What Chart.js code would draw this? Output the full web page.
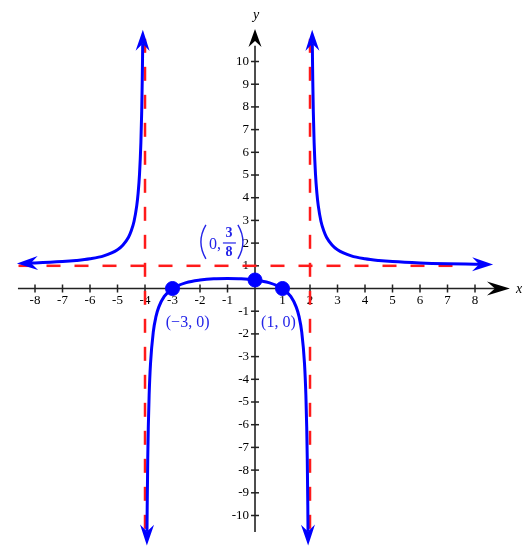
<!DOCTYPE html>
<html>
<head>
<meta charset="utf-8">
<script src="https://cdn.jsdelivr.net/npm/chart.js@4"></script>
<style>
  html, body { margin: 0; padding: 0; background: #fff; }
  canvas { display: block; }
</style>
</head>
<body>
<canvas id="myChart" width="528" height="550"></canvas>
<script>
// tick labels
const xTicks = [-8, -7, -6, -5, -4, -3, -2, -1, 1, 2, 3, 4, 5, 6, 7, 8];
const yTicks = [10, 9, 8, 7, 6, 5, 4, 3, 2, 1, -1, -2, -3, -4, -5, -6, -7, -8, -9, -10];

// curve branches
const leftX = [-8.15, -8, -7, -6.5, -6, -5.5, -5, -4.8, -4.6, -4.5, -4.4, -4.3, -4.25, -4.2, -4.15, -4.12, -4.1, -4.09, -4.084];
const leftY = [1.12, 1.125, 1.185, 1.235, 1.31, 1.44, 1.71, 1.92, 2.26, 2.54, 2.95, 3.65, 4.2, 5.03, 6.42, 7.81, 9.2, 10.12, 10.78];

const midX = [-3.928, -3.92, -3.9, -3.88, -3.85, -3.8, -3.7, -3.6, -3.5, -3.3, -3, -2.5, -2, -1.5, -1, -0.5, 0, 0.5, 1, 1.3, 1.5, 1.6, 1.7, 1.8, 1.85, 1.88, 1.9, 1.92, 1.928];
const midY = [-10.71, -9.56, -7.48, -6.09, -4.7, -3.31, -1.92, -1.23, -0.82, -0.35, 0, 0.26, 0.375, 0.43, 0.44, 0.43, 0.375, 0.26, 0, -0.35, -0.82, -1.23, -1.92, -3.31, -4.7, -6.09, -7.48, -9.56, -10.71];

const rightX = [2.084, 2.09, 2.1, 2.12, 2.15, 2.2, 2.25, 2.3, 2.4, 2.5, 2.6, 2.8, 3, 3.5, 4, 4.5, 5, 6, 7, 8, 8.15];
const rightY = [10.78, 10.12, 9.2, 7.81, 6.42, 5.03, 4.2, 3.65, 2.95, 2.54, 2.26, 1.92, 1.71, 1.44, 1.31, 1.235, 1.185, 1.125, 1.09, 1.07, 1.067];

// asymptotes x = -4, x = 2, y = 1
const vAsymX = [-4, 2];
const vAsymY = [11.0, -10.75];
const hAsymX = [-8.6, 7.55];
const hAsymY = 1;

// marked points
const ptsX = [-3, 0, 1];
const ptsY = [0, 0.375, 0];

const BLUE = "#0000ff";
const RED = "#ff1a1a";
const TXT_BLUE = "#2424e8";

const toXY = (xs, ys) => xs.map((v, i) => ({ x: v, y: ys[i] }));

function arrowHead(ctx, tx, ty, ang, color, len, half, notch) {
  const ca = Math.cos(ang), sa = Math.sin(ang);
  const bx = tx - ca * len, by = ty - sa * len;
  const nx = tx - ca * notch, ny = ty - sa * notch;
  ctx.fillStyle = color;
  ctx.beginPath();
  ctx.moveTo(tx, ty);
  ctx.lineTo(bx - sa * half, by + ca * half);
  ctx.lineTo(nx, ny);
  ctx.lineTo(bx + sa * half, by - ca * half);
  ctx.closePath();
  ctx.fill();
}

const axesPlugin = {
  id: "axes",
  beforeDatasetsDraw(chart) {
    const { ctx, scales: { x, y } } = chart;
    const x0 = x.getPixelForValue(0);
    const y0 = y.getPixelForValue(0);
    ctx.save();
    ctx.strokeStyle = "#222";
    ctx.lineWidth = 1.6;
    // x axis
    ctx.beginPath();
    ctx.moveTo(x.getPixelForValue(-8.62), y0);
    ctx.lineTo(x.getPixelForValue(9.0), y0);
    ctx.stroke();
    arrowHead(ctx, x.getPixelForValue(9.27), y0, 0, "#000", 23, 7, 15);
    // y axis
    ctx.beginPath();
    ctx.moveTo(x0, y.getPixelForValue(-10.73));
    ctx.lineTo(x0, y.getPixelForValue(10.7));
    ctx.stroke();
    arrowHead(ctx, x0, y.getPixelForValue(11.43), -Math.PI / 2, "#000", 18, 6.5, 12);

    ctx.lineWidth = 1.5;
    ctx.fillStyle = "#000";
    ctx.font = '13px "Liberation Serif"';
    ctx.textAlign = "center";
    ctx.textBaseline = "top";
    xTicks.forEach(v => {
      const px = x.getPixelForValue(v);
      ctx.beginPath();
      ctx.moveTo(px, y0 - 4);
      ctx.lineTo(px, y0 + 4);
      ctx.stroke();
      ctx.fillText(String(v), px, y0 + 6);
    });
    ctx.textAlign = "right";
    ctx.textBaseline = "middle";
    yTicks.forEach(v => {
      const py = y.getPixelForValue(v);
      ctx.beginPath();
      ctx.moveTo(x0 - 4, py);
      ctx.lineTo(x0 + 4, py);
      ctx.stroke();
      ctx.fillText(String(v), x0 - 6, py);
    });
    ctx.font = 'italic 14px "Liberation Serif"';
    ctx.textAlign = "center";
    ctx.fillText("x", x.getPixelForValue(9.6), y0 + 1);
    ctx.fillText("y", x0 + 1, y.getPixelForValue(12.05));
    ctx.restore();
  },
  afterDatasetsDraw(chart) {
    const { ctx, scales: { x, y } } = chart;
    ctx.save();
    // arrowheads on the curve ends
    [0, 1, 2].forEach(i => {
      const pts = chart.getDatasetMeta(i).data;
      const ends = [[pts[0], pts[1]], [pts[pts.length - 1], pts[pts.length - 2]]];
      ends.forEach(([a, b]) => {
        const ang = Math.atan2(a.y - b.y, a.x - b.x);
        const tx = a.x + Math.cos(ang) * 14, ty = a.y + Math.sin(ang) * 14;
        arrowHead(ctx, tx, ty, ang, BLUE, 21, 7, 14);
      });
    });

    // point labels
    ctx.fillStyle = TXT_BLUE;
    ctx.font = '16px "Liberation Serif"';
    ctx.textAlign = "center";
    ctx.textBaseline = "middle";
    ctx.fillText("(\u22123, 0)", x.getPixelForValue(-2.45), y.getPixelForValue(-1.5));
    ctx.fillText("(1, 0)", x.getPixelForValue(0.85), y.getPixelForValue(-1.5));

    // (0, 3/8)
    const cx = x.getPixelForValue(-1.24);
    const cy = y.getPixelForValue(2.05);
    ctx.strokeStyle = TXT_BLUE;
    ctx.lineWidth = 1.4;
    ctx.beginPath();
    ctx.moveTo(cx - 15, cy - 17);
    ctx.quadraticCurveTo(cx - 25, cy, cx - 15, cy + 17);
    ctx.stroke();
    ctx.beginPath();
    ctx.moveTo(cx + 17, cy - 17);
    ctx.quadraticCurveTo(cx + 27, cy, cx + 17, cy + 17);
    ctx.stroke();
    ctx.fillText("0,", cx - 6, cy + 3);
    ctx.font = 'bold 14px "Liberation Serif"';
    ctx.fillText("3", cx + 8, cy - 9);
    ctx.fillText("8", cx + 8, cy + 10);
    ctx.lineWidth = 1.2;
    ctx.beginPath();
    ctx.moveTo(cx + 2, cy + 1);
    ctx.lineTo(cx + 15, cy + 1);
    ctx.stroke();
    ctx.restore();
  }
};

const curveStyle = {
  showLine: true,
  borderColor: BLUE,
  borderWidth: 3,
  pointRadius: 0,
  cubicInterpolationMode: "monotone",
  order: 1,
};
const asymStyle = {
  showLine: true,
  borderColor: RED,
  borderWidth: 2.5,
  borderDash: [14, 14],
  pointRadius: 0,
  order: 2,
};

const data = {
  datasets: [
    { ...curveStyle, label: "left", data: toXY(leftX, leftY) },
    { ...curveStyle, label: "middle", data: toXY(midX, midY) },
    { ...curveStyle, label: "right", data: toXY(rightX, rightY) },
    { ...asymStyle, label: "x=-4", data: toXY([vAsymX[0], vAsymX[0]], vAsymY) },
    { ...asymStyle, label: "x=2", data: toXY([vAsymX[1], vAsymX[1]], vAsymY) },
    { ...asymStyle, label: "y=1", data: toXY(hAsymX, [hAsymY, hAsymY]) },
    {
      label: "points",
      data: toXY(ptsX, ptsY),
      showLine: false,
      pointRadius: 7,
      pointBackgroundColor: BLUE,
      pointBorderColor: BLUE,
      order: 0,
    },
  ],
};

const config = {
  type: "scatter",
  data: data,
  options: {
    responsive: false,
    animation: false,
    layout: { padding: 0, autoPadding: false },
    plugins: { legend: { display: false }, tooltip: { enabled: false } },
    scales: {
      x: { type: "linear", min: -9.273, max: 9.927, display: false },
      y: { type: "linear", min: -11.52, max: 12.71, display: false },
    },
  },
  plugins: [axesPlugin],
};

const myChart = new Chart(document.getElementById("myChart"), config);
</script>
</body>
</html>
